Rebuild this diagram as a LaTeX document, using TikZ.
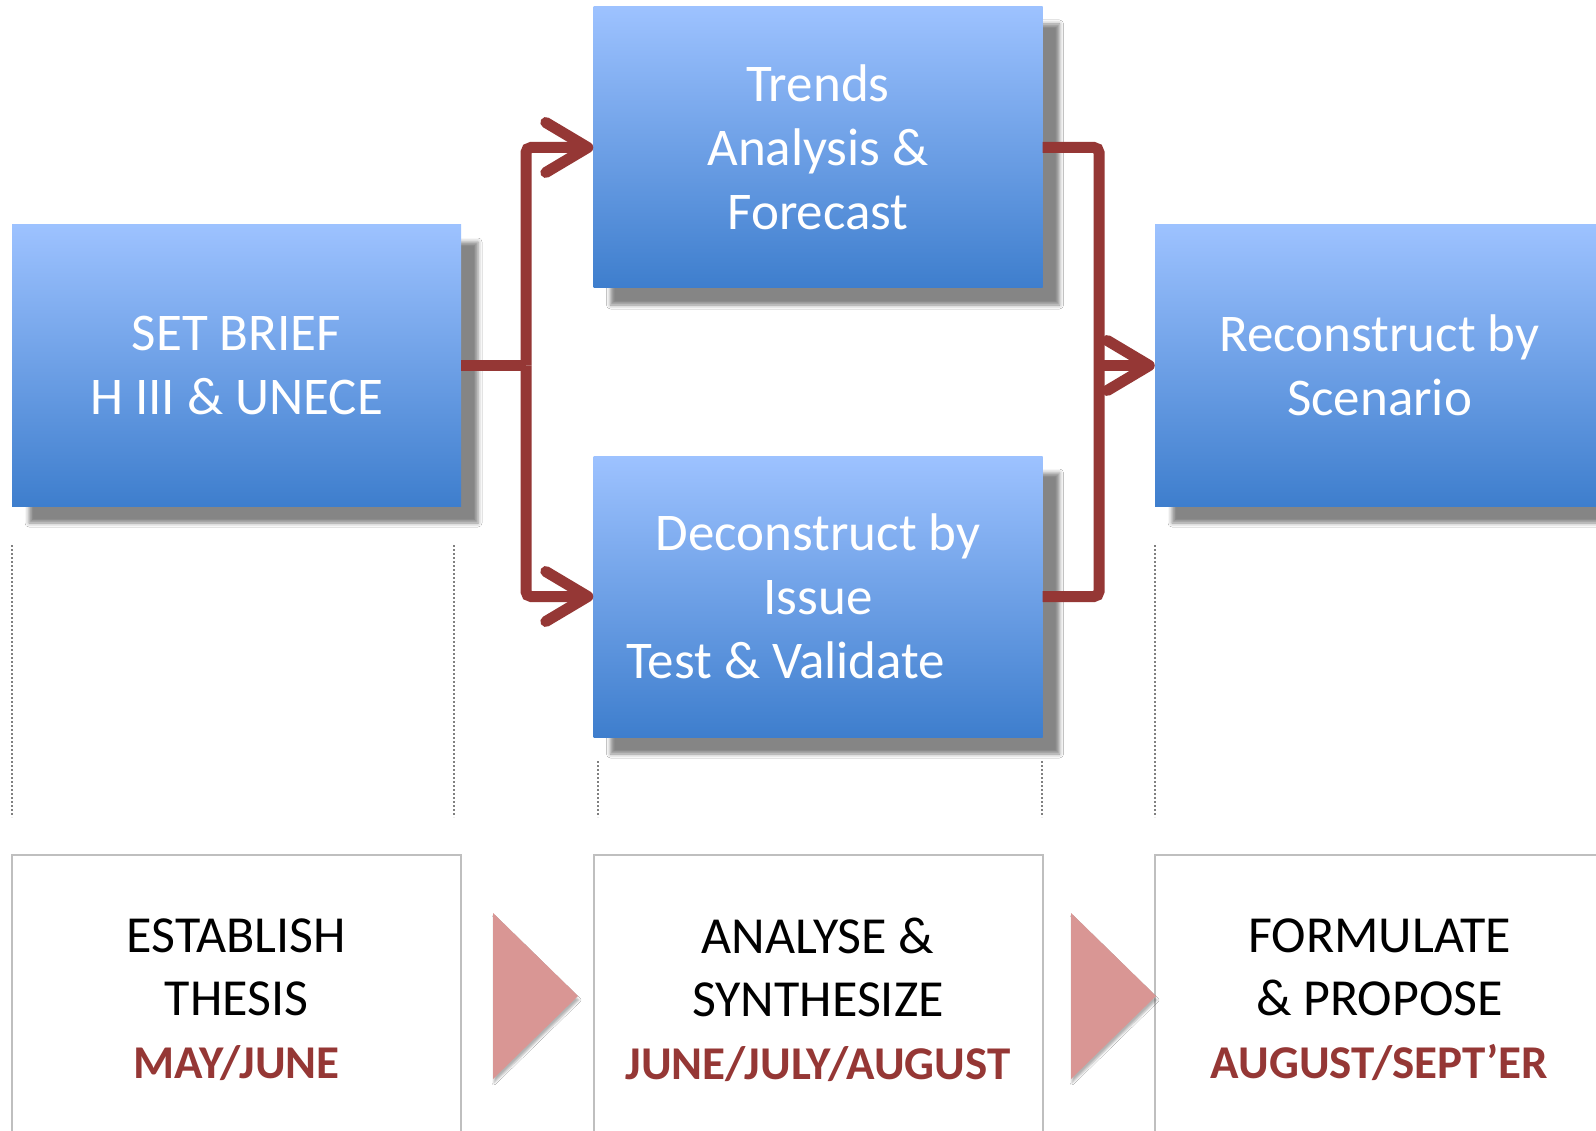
\documentclass[tikz,border=0pt]{standalone}
\usepackage{fontspec}
\setmainfont{Carlito}
\usepackage{tikz}
\usetikzlibrary{arrows.meta,shadows.blur}
\usepackage{xcolor}
\definecolor{boxtop}{RGB}{157,194,255}
\definecolor{boxbot}{RGB}{62,126,205}
\definecolor{linkred}{RGB}{149,55,53}
\definecolor{tripink}{RGB}{217,150,148}
\definecolor{framegray}{RGB}{191,191,191}

\begin{document}
\begin{tikzpicture}[x=1pt, y=-1pt,
  stage/.style={top color=boxtop, bottom color=boxbot, minimum width=449pt, minimum height=281pt, inner sep=0pt, text=white, align=center, font=\fontsize{53}{64}\selectfont, blur shadow={shadow xshift=17pt, shadow yshift=-17pt, shadow blur radius=4pt, shadow opacity=48}},
  phase/.style={draw=framegray, line width=2pt, fill=white, minimum width=449pt, minimum height=290pt, inner sep=0pt, align=center, font=\fontsize{52}{63}\selectfont},
  link/.style={linkred, line width=11pt, rounded corners=5pt},
  linkarrow/.style={link, -{Straight Barb[round, length=42pt, width=50pt]}},
  guide/.style={gray, dash pattern=on 2pt off 2pt, line width=1.2pt}]
\useasboundingbox (0,0) rectangle (1596,1131);
\clip (0,0) rectangle (1596,1131);
\fill[white] (0,0) rectangle (1596,1131);
% Process boxes
\node[stage] (brief) at (236.5,365.5) {SET BRIEF\\H III \& UNECE};
\node[stage] (trends) at (818,147.5) {Trends\\Analysis \&\\Forecast};
\node[stage] (issue) at (818,596.5) {Deconstruct by\\Issue\\\hspace*{-64pt}Test \& Validate};
\node[stage] (scenario) at (1379.5,365.5) {Reconstruct by\\Scenario};
% Phases
\node[phase] (thesis) at (236.5,1000) {ESTABLISH\\THESIS\\\textcolor{linkred}{\fontsize{47}{63}\selectfont\bfseries MAY/JUNE}};
\node[phase] (analyse) at (818,1000) {ANALYSE \&\\SYNTHESIZE\\\textcolor{linkred}{\fontsize{47}{63}\selectfont\bfseries JUNE/JULY/AUGUST}};
\node[phase] (propose) at (1379.5,1000) {FORMULATE\\\& PROPOSE\\\textcolor{linkred}{\fontsize{47}{63}\selectfont\bfseries AUGUST/SEPT’ER}};
\foreach \tx in {493,1071}
  \fill[tripink, blur shadow={shadow xshift=1pt, shadow yshift=-4pt, shadow blur radius=2pt, shadow opacity=30}] (\tx,913) -- (\tx+85,996) -- (\tx,1079) -- cycle;
% Guides
\foreach \gx/\gy in {12/545, 454/545, 598/761, 1042/761, 1155/545}
  \draw[guide] (\gx,\gy) -- (\gx,817);
% Connectors
\coordinate (split) at (526,365.5);
\coordinate (merge) at (1099,365.5);
\draw[link] (brief.east) -- (split);
\draw[linkarrow] (split) |- (trends.west);
\draw[linkarrow] (split) |- (issue.west);
\draw[link] (trends.east) -| (merge) |- (issue.east);
\draw[linkarrow] (merge) -- (scenario.west);
\end{tikzpicture}
\end{document}
